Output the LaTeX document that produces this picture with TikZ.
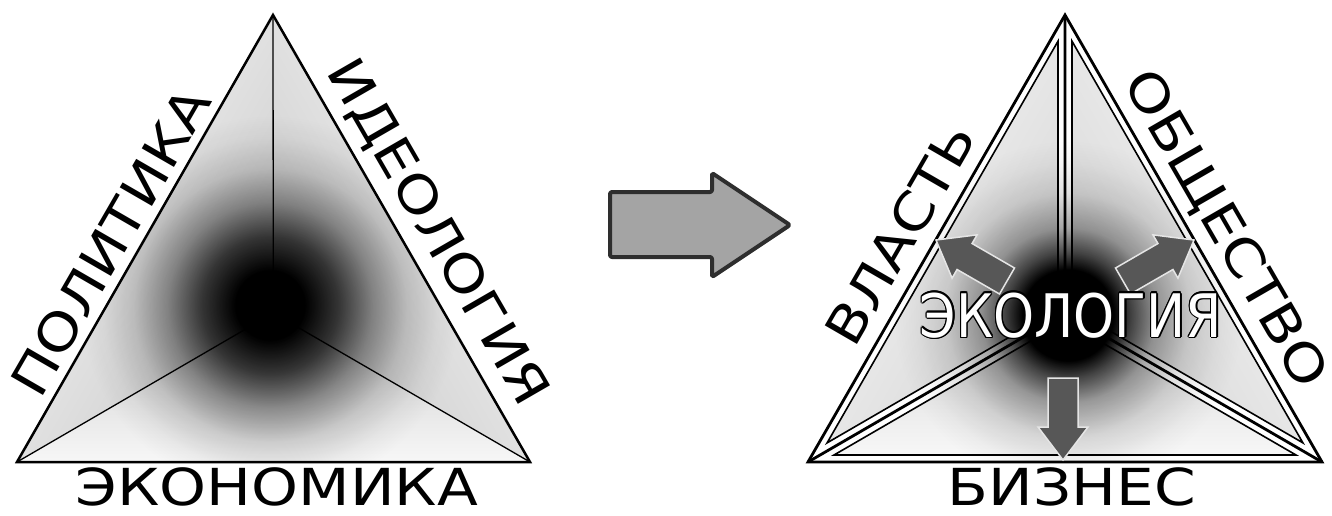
\documentclass[tikz,border=0pt]{standalone}
\usepackage{fontspec}
\setmainfont{DejaVu Sans}
\newfontfamily\widefont[FakeStretch=1.17]{DejaVu Sans}
\newfontfamily\narrowfont[FakeStretch=0.87]{DejaVu Sans}
\usetikzlibrary{calc}

% 25bp corresponds to the radius of the shaded circle
\pgfdeclareradialshading{blobL}{\pgfpointorigin}{color(0bp)=(black); color(4.5bp)=(black); color(9bp)=(black!75); color(13.5bp)=(black!40); color(18bp)=(black!15); color(22bp)=(black!4); color(25bp)=(white); color(50bp)=(white)}
\pgfdeclareradialshading{blobR}{\pgfpointorigin}{color(0bp)=(black); color(6.5bp)=(black); color(9bp)=(black!70); color(12.5bp)=(black!35); color(17.5bp)=(black!12); color(22bp)=(black!3); color(25bp)=(white); color(50bp)=(white)}

\definecolor{subgrayL}{HTML}{CACACA}
\definecolor{subgrayR}{HTML}{D6D6D6}
\definecolor{edgewhite}{HTML}{F7F7F7}
\definecolor{arrowfill}{HTML}{A4A4A4}
\definecolor{arrowline}{HTML}{2E2E2E}
\definecolor{smallfill}{HTML}{575757}

\newcommand\outlinetext[2]{%
  \setbox0=\hbox{#2}%
  \hbox to \wd0{%
    \foreach \ang in {0,30,...,330}{%
      \pgfmathsetlengthmacro\ddx{#1*cos(\ang)}%
      \pgfmathsetlengthmacro\ddy{#1*sin(\ang)}%
      \rlap{\kern\ddx\raise\ddy\hbox{\color{black}#2}}%
    }%
    \rlap{\color{white}#2}\hfil}}

\begin{document}
\begin{tikzpicture}[x=1pt,y=-1pt,
  lab/.style={font=\widefont\fontsize{51}{51}\selectfont, inner sep=0pt, anchor=base},
  subshadeL/.style={top color=subgrayL, bottom color=edgewhite},
  subshadeR/.style={top color=subgrayR, bottom color=edgewhite},
  bigarrow/.style={line width=4pt, draw=arrowline, fill=arrowfill, rounded corners=2pt, line join=round},
  smallarrow/.style={line width=1.5pt, draw=white!90!black, fill=smallfill, line join=miter},
  thickline/.style={line width=2.8pt, line join=miter},
  thinline/.style={line width=1.6pt, line join=miter}]
\useasboundingbox (0,0) rectangle (1332,515);

% ---------- left triangle ----------
\coordinate (LA) at (273,15);
\coordinate (LB) at (17,462);
\coordinate (LC) at (530,462);
\coordinate (LO) at (273.3,313);

\shade[subshadeL] (LB)--(LC)--(LO)--cycle;
\shade[subshadeL, shading angle=-120] (LA)--(LB)--(LO)--cycle;
\shade[subshadeL, shading angle=120] (LA)--(LC)--(LO)--cycle;
\begin{scope}
  \clip (LA)--(LB)--(LC)--cycle;
  \begin{scope}[blend mode=multiply]
    \shade[shading=blobL] (270,305) circle (190pt);
  \end{scope}
\end{scope}
\draw[line width=1.3pt] (LO)--(LA) (LO)--(LB) (LO)--(LC);
\draw[line width=2.5pt, line join=miter] (LA)--(LB)--(LC)--cycle;

% ---------- right triangle ----------
\coordinate (RA) at (1065,15);
\coordinate (RB) at (808,462);
\coordinate (RC) at (1322,462);
\coordinate (RO) at (1065,313);
% inset sub-triangles
\coordinate (L1) at (1058.0,41.2);
\coordinate (L2) at (827.1,442.85);
\coordinate (L3) at (1058.0,308.97);
\coordinate (R1) at (1072.0,41.2);
\coordinate (R2) at (1302.9,442.85);
\coordinate (R3) at (1072.0,308.97);
\coordinate (B1) at (834.0,455.0);
\coordinate (B2) at (1296.0,455.0);
\coordinate (B3) at (1065,321.1);

\fill[white] (RA)--(RB)--(RC)--cycle;
\shade[subshadeR] (B1)--(B2)--(B3)--cycle;
\shade[subshadeR, shading angle=-120] (L1)--(L2)--(L3)--cycle;
\shade[subshadeR, shading angle=120] (R1)--(R2)--(R3)--cycle;
\begin{scope}
  \clip (RA)--(RB)--(RC)--cycle;
  \begin{scope}[blend mode=multiply]
    \shade[shading=blobR] (1068,315) circle (175pt);
  \end{scope}
\end{scope}
\draw[thinline] (L1)--(L2)--(L3)--cycle;
\draw[thinline] (R1)--(R2)--(R3)--cycle;
\draw[thinline] (B1)--(B2)--(B3)--cycle;
\draw[thickline] (RO)--(RA) (RO)--(RB) (RO)--(RC);
\draw[thickline] (RA)--(RB)--(RC)--cycle;

% ---------- big arrow ----------
\draw[bigarrow] (610,192) -- (712,192) -- (712,173) -- (790,225) -- (712,277) -- (712,257) -- (610,257) -- cycle;

% ---------- small arrows ----------
\foreach \px/\py/\ang in {1007/281/150, 1123/281/30, 1063/378/-90}{
  \draw[smallarrow, shift={(\px,\py)}, rotate=\ang]
    (0,-15) -- (49,-15) -- (49,-25) -- (82,0) -- (49,25) -- (49,15) -- (0,15) -- cycle;
}

% ---------- labels ----------
\node[lab, rotate=60] (politika) at ($(LB)!0.462!(LA)+(150:10pt)$) {ПОЛИТИКА};
\node[lab, rotate=-60] (ideologia) at ($(LC)!0.475!(LA)+(30:18pt)$) {ИДЕОЛОГИЯ};
\node[lab] (ekonomika) at (277,505) {ЭКОНОМИКА};
\node[lab, rotate=60] (vlast) at ($(RB)!0.472!(RA)+(150:15pt)$) {ВЛАСТЬ};
\node[lab, rotate=-60] (obshchestvo) at ($(RC)!0.485!(RA)+(30:16pt)$) {ОБЩЕСТВО};
\node[lab] (biznes) at (1072,505) {БИЗНЕС};
\node[inner sep=0pt, anchor=base, font=\narrowfont\fontsize{60}{60}\selectfont] (ekologia) at (1071,337) {\outlinetext{1.3pt}{ЭКОЛОГИЯ}};
\end{tikzpicture}
\end{document}
